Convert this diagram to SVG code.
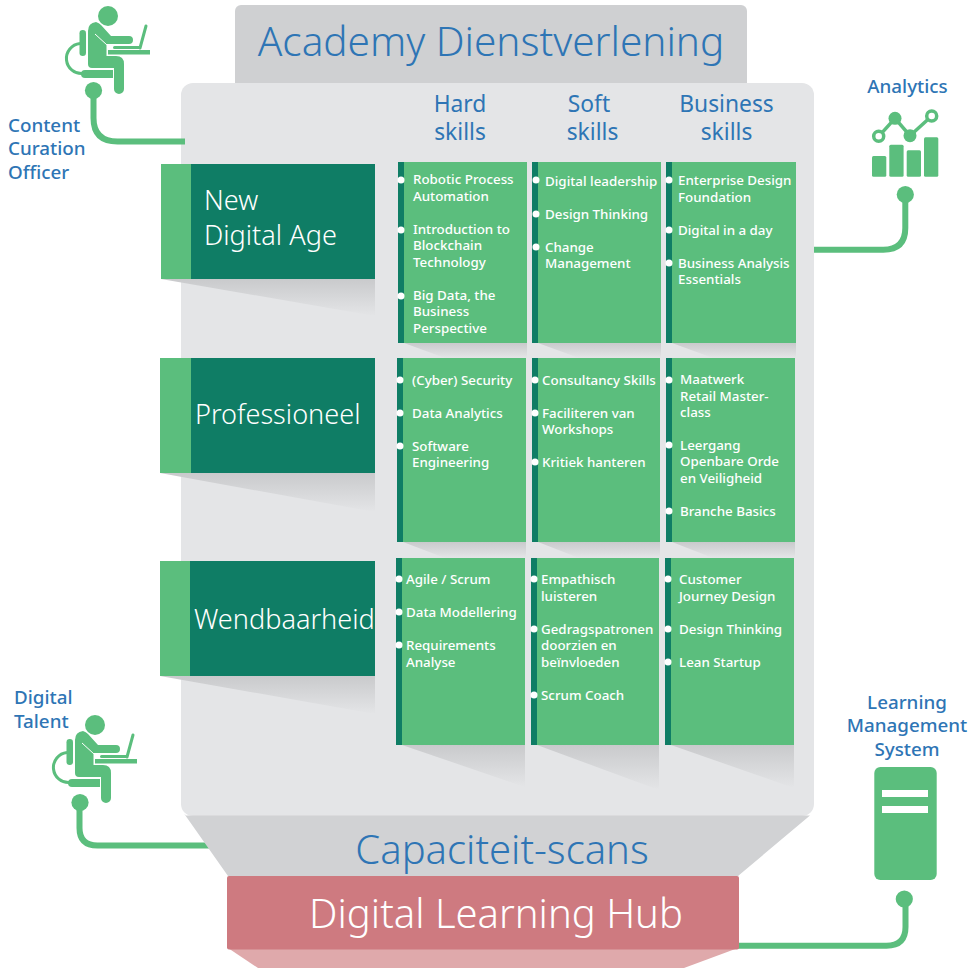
<svg xmlns="http://www.w3.org/2000/svg" width="977" height="968" viewBox="0 0 977 968">
<style>
text{font-family:"Noto Sans","Open Sans","Liberation Sans",sans-serif}
.big{font-weight:300;fill:#2e75b5}
.lab{font-size:18.800px;font-weight:500;fill:#2e75b5}
.col{font-size:22.800px;font-weight:400;fill:#2e75b5;text-anchor:middle}
.row{font-size:27.100px;font-weight:300;fill:#fff}
.it{font-size:13.350px;font-weight:500;fill:#fff}
.dot{fill:#fff}
.card{fill:#5bbe7d}
.bar{fill:#0f7d65}
.g{fill:#5bbe7d}
.wire{fill:none;stroke:#5bbe7d;stroke-width:6}
</style>
<defs>
<linearGradient id="sh" x1="0" y1="0" x2="0" y2="1"><stop offset="0" stop-color="#c9cacc"/><stop offset="1" stop-color="#e4e5e7"/></linearGradient>
<g id="person">
<circle cx="108" cy="16" r="10"/>
<path d="M88 31Q88 23 96 22Q99 23 101 25L111 36H129a4 4 0 0 1 0 8H107V56H116Q124 56 124 64V89a5 5 0 0 1-10 0V68H92Q88 68 88 64Z"/>
<path d="M95 34L107 45V56" fill="none" stroke="#fff" stroke-width="1"/>
<rect x="79.500" y="30" width="6.500" height="26" rx="3.200"/>
<path d="M80 43.500A14.500 14.500 0 0 0 83 73.500" fill="none" stroke="#5bbe7d" stroke-width="3"/>
<path d="M85 70h28v8h-28q-4 0-4-4t4-4z"/>
<rect x="108" y="50" width="42" height="4.500"/>
<rect x="113" y="46" width="28" height="3" rx="1.500"/>
<path d="M140 48L146 26" fill="none" stroke="#5bbe7d" stroke-width="3" stroke-linecap="round"/>
</g>
</defs>

<g id="academy-header"><rect x="235" y="5" width="512" height="90" rx="6" fill="#cfd0d2"/>
<text class="big" x="491" y="56" font-size="40.500" text-anchor="middle">Academy Dienstverlening</text></g>
<g id="panel"><rect x="181" y="83" width="633" height="733" rx="12" fill="#e4e5e7"/></g>

<g id="connectors">
<path class="wire" d="M93.500 92V118q0 23.500 24 23.500H185"/>
<circle class="g" cx="93.500" cy="90.500" r="8.600"/>
<path class="wire" d="M905.300 196V228q0 21.700-22 21.700H814"/>
<circle class="g" cx="905.300" cy="194.500" r="8.600"/>
<path class="wire" d="M79.500 804V828q0 17.500 18 17.500H214"/>
<circle class="g" cx="80" cy="802.500" r="8.600"/>
<path class="wire" d="M905.500 899V927q0 18.700-19 18.700H737"/>
<circle class="g" cx="904.300" cy="899" r="8.600"/>
</g>

<g id="capaciteit-scans"><path d="M184 813.500L186 815.500H810L738 876H228Z" fill="#d1d2d4"/>
<text class="big" x="502" y="864" font-size="40" text-anchor="middle">Capaciteit-scans</text></g>
<g id="hub"><path d="M228 948H738L684 968H258Z" fill="#dfa9ab"/><rect x="227" y="876" width="512" height="73.500" rx="2" fill="#ce7a80"/>
<text class="big" x="496" y="928" font-size="40" text-anchor="middle" style="fill:#fff">Digital Learning Hub</text></g>

<g id="col-hard"><text class="col" x="460" y="112">Hard</text><text class="col" x="460" y="140">skills</text></g>
<g id="col-soft"><text class="col" x="589" y="112">Soft</text><text class="col" x="592.500" y="140">skills</text></g>
<g id="col-business"><text class="col" x="726.500" y="112">Business</text><text class="col" x="726.500" y="140">skills</text></g>

<g id="row-new-digital-age"><path d="M161 279H375V316Z" fill="url(#sh)"/><rect x="161" y="164" width="214" height="115" class="card"/><rect x="191" y="164" width="184" height="115" class="bar"/>
<text class="row" x="204" y="210">New</text><text class="row" x="204" y="245">Digital Age</text></g>
<g id="row-professioneel"><path d="M160 473H375V512Z" fill="url(#sh)"/><rect x="160" y="358" width="215" height="115" class="card"/><rect x="191" y="358" width="184" height="115" class="bar"/>
<text class="row" x="195" y="424">Professioneel</text></g>
<g id="row-wendbaarheid"><path d="M160 676H375V714Z" fill="url(#sh)"/><rect x="160" y="561" width="215" height="115" class="card"/><rect x="190" y="561" width="185" height="115" class="bar"/>
<text class="row" x="194" y="629">Wendbaarheid</text></g>

<g id="card-1-1"><path d="M404 343H527V358H445Z" fill="url(#sh)"/><rect x="398" y="162" width="129" height="181" class="card"/><rect x="398" y="162" width="6" height="181" class="bar"/>
<circle class="dot" cx="401" cy="180" r="3.500"/><circle class="dot" cx="401" cy="230" r="3.500"/><circle class="dot" cx="401" cy="296" r="3.500"/>
<text class="it" x="413" y="184">Robotic Process</text><text class="it" x="413" y="201">Automation</text><text class="it" x="413" y="234">Introduction to</text><text class="it" x="413" y="250">Blockchain</text><text class="it" x="413" y="267">Technology</text><text class="it" x="413" y="300">Big Data, the</text><text class="it" x="413" y="316">Business</text><text class="it" x="413" y="333">Perspective</text></g>
<g id="card-1-2"><path d="M538 343H661V358H579Z" fill="url(#sh)"/><rect x="532" y="162" width="129" height="181" class="card"/><rect x="532" y="162" width="6" height="181" class="bar"/>
<circle class="dot" cx="536" cy="180" r="3.500"/><circle class="dot" cx="536" cy="214" r="3.500"/><circle class="dot" cx="536" cy="247" r="3.500"/>
<text class="it" x="545" y="186">Digital leadership</text><text class="it" x="545" y="219">Design Thinking</text><text class="it" x="545" y="252">Change</text><text class="it" x="545" y="268">Management</text></g>
<g id="card-1-3"><path d="M672 343H796V358H713Z" fill="url(#sh)"/><rect x="666" y="162" width="130" height="181" class="card"/><rect x="666" y="162" width="6" height="181" class="bar"/>
<circle class="dot" cx="669" cy="180" r="3.500"/><circle class="dot" cx="669" cy="230" r="3.500"/><circle class="dot" cx="669" cy="263" r="3.500"/>
<text class="it" x="678" y="185">Enterprise Design</text><text class="it" x="678" y="202">Foundation</text><text class="it" x="678" y="235">Digital in a day</text><text class="it" x="678" y="268">Business Analysis</text><text class="it" x="678" y="284">Essentials</text></g>

<g id="card-2-1"><path d="M403 542H526V558H445Z" fill="url(#sh)"/><rect x="397" y="358" width="129" height="184" class="card"/><rect x="397" y="358" width="6" height="184" class="bar"/>
<circle class="dot" cx="400" cy="380" r="3.500"/><circle class="dot" cx="400" cy="413" r="3.500"/><circle class="dot" cx="400" cy="446" r="3.500"/>
<text class="it" x="412" y="385">(Cyber) Security</text><text class="it" x="412" y="418">Data Analytics</text><text class="it" x="412" y="451">Software</text><text class="it" x="412" y="467">Engineering</text></g>
<g id="card-2-2"><path d="M538 542H660V558H579Z" fill="url(#sh)"/><rect x="532" y="358" width="128" height="184" class="card"/><rect x="532" y="358" width="6" height="184" class="bar"/>
<circle class="dot" cx="535" cy="380" r="3.500"/><circle class="dot" cx="535" cy="413" r="3.500"/><circle class="dot" cx="535" cy="462" r="3.500"/>
<text class="it" x="542" y="385">Consultancy Skills</text><text class="it" x="542" y="418">Faciliteren van</text><text class="it" x="542" y="434">Workshops</text><text class="it" x="542" y="467">Kritiek hanteren</text></g>
<g id="card-2-3"><path d="M672 542H795V558H713Z" fill="url(#sh)"/><rect x="666" y="358" width="129" height="184" class="card"/><rect x="666" y="358" width="6" height="184" class="bar"/>
<circle class="dot" cx="669" cy="380" r="3.500"/><circle class="dot" cx="669" cy="445" r="3.500"/><circle class="dot" cx="669" cy="511" r="3.500"/>
<text class="it" x="680" y="384">Maatwerk</text><text class="it" x="680" y="401">Retail Master-</text><text class="it" x="680" y="417">class</text><text class="it" x="680" y="450">Leergang</text><text class="it" x="680" y="466">Openbare Orde</text><text class="it" x="680" y="483">en Veiligheid</text><text class="it" x="680" y="516">Branche Basics</text></g>

<g id="card-3-1"><path d="M402 745H525V787Z" fill="url(#sh)"/><rect x="396" y="558" width="129" height="187" class="card"/><rect x="396" y="558" width="6" height="187" class="bar"/>
<circle class="dot" cx="399" cy="579" r="3.500"/><circle class="dot" cx="399" cy="612" r="3.500"/><circle class="dot" cx="399" cy="645" r="3.500"/>
<text class="it" x="406" y="584">Agile / Scrum</text><text class="it" x="406" y="617">Data Modellering</text><text class="it" x="406" y="650">Requirements</text><text class="it" x="406" y="667">Analyse</text></g>
<g id="card-3-2"><path d="M537 745H659V790Z" fill="url(#sh)"/><rect x="531" y="558" width="128" height="187" class="card"/><rect x="531" y="558" width="6" height="187" class="bar"/>
<circle class="dot" cx="534" cy="579" r="3.500"/><circle class="dot" cx="534" cy="629" r="3.500"/><circle class="dot" cx="534" cy="695" r="3.500"/>
<text class="it" x="541" y="584">Empathisch</text><text class="it" x="541" y="601">luisteren</text><text class="it" x="541" y="634">Gedragspatronen</text><text class="it" x="541" y="650">doorzien en</text><text class="it" x="541" y="667">beïnvloeden</text><text class="it" x="541" y="700">Scrum Coach</text></g>
<g id="card-3-3"><path d="M671 745H794V788Z" fill="url(#sh)"/><rect x="665" y="558" width="129" height="187" class="card"/><rect x="665" y="558" width="6" height="187" class="bar"/>
<circle class="dot" cx="668" cy="579" r="3.500"/><circle class="dot" cx="668" cy="629" r="3.500"/><circle class="dot" cx="668" cy="662" r="3.500"/>
<text class="it" x="679" y="584">Customer</text><text class="it" x="679" y="601">Journey Design</text><text class="it" x="679" y="634">Design Thinking</text><text class="it" x="679" y="667">Lean Startup</text></g>

<g id="content-curation-officer"><use href="#person" class="g"/>
<text class="lab" x="8" y="132">Content</text><text class="lab" x="8" y="155">Curation</text><text class="lab" x="8" y="179">Officer</text></g>
<g id="digital-talent"><use href="#person" class="g" x="-13" y="709"/>
<text class="lab" x="14" y="704">Digital</text><text class="lab" x="14" y="728">Talent</text></g>
<g id="analytics"><text class="lab" x="907.500" y="93" text-anchor="middle">Analytics</text>
<rect class="g" x="872" y="156" width="14.300" height="20.700" rx="1.500"/><rect class="g" x="889.300" y="144.700" width="14.300" height="32" rx="1.500"/><rect class="g" x="906.700" y="150.300" width="14.300" height="26.400" rx="1.500"/><rect class="g" x="924" y="137.300" width="14.300" height="39.400" rx="1.500"/>
<path d="M878.700 136.300L895 118.300L910 135.700L931.700 116" fill="none" stroke="#5bbe7d" stroke-width="3.500"/>
<circle cx="878.700" cy="136.300" r="5" fill="#fff" stroke="#5bbe7d" stroke-width="3.500"/><circle class="g" cx="895" cy="118.300" r="6.500"/><circle class="g" cx="910" cy="135.700" r="6.500"/><circle cx="931.700" cy="116" r="5" fill="#fff" stroke="#5bbe7d" stroke-width="3.500"/></g>
<g id="lms"><text class="lab" x="907" y="709" text-anchor="middle">Learning</text><text class="lab" x="907" y="732" text-anchor="middle">Management</text><text class="lab" x="907" y="756" text-anchor="middle">System</text>
<rect class="g" x="874.300" y="767" width="62.400" height="113" rx="6"/><rect x="882" y="790" width="46" height="7" fill="#fff"/><rect x="882" y="806" width="46" height="7" fill="#fff"/></g>
</svg>
